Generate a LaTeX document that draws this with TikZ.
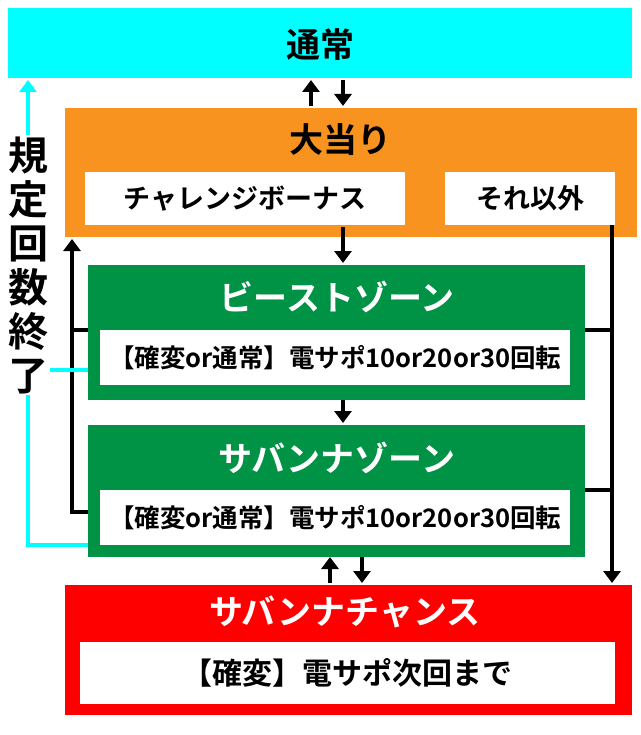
\documentclass[tikz,border=0pt]{standalone}
\usepackage{fontspec}
\setmainfont{Noto Sans CJK JP Bold}
\usetikzlibrary{arrows.meta}
\definecolor{cyanbg}{HTML}{00FFFF}
\definecolor{orangebg}{HTML}{F7931E}
\definecolor{greenbg}{HTML}{009245}
\definecolor{redbg}{HTML}{FF0000}
\tikzset{
  title/.style={font=\fontsize{34}{34}\selectfont},
  label/.style={font=\fontsize{27}{27}\selectfont, fill=white, inner sep=0pt, anchor=north west},
  flow/.style={line width=4pt, -{Triangle[length=12pt,width=17pt]}},
  link/.style={line width=4pt},
}
\begin{document}
\begin{tikzpicture}[x=1pt,y=-1pt]
\useasboundingbox (0,0) rectangle (640,735);

% boxes
\fill[cyanbg] (8,8) rectangle (632,78);
\node[title] (normal) at (320,45) {通常};
\fill[orangebg] (65,108) rectangle (637,237);
\node[title] (hit) at (340,140) {大当り};
\node[label, minimum width=320pt, minimum height=53pt] (chal) at (85,172) {チャレンジボーナス};
\node[label, minimum width=170pt, minimum height=53pt] (other) at (445,172) {それ以外};

\fill[greenbg] (88,265) rectangle (585,400);
\node[title, text=white] (beast) at (337,297) {ビーストゾーン};
\node[label, minimum width=470pt, minimum height=55pt, font=\fontsize{25.5}{26}\selectfont] (bsub) at (100,330) {【確変or通常】電サポ10or20or30回転};

\fill[greenbg] (88,425) rectangle (585,557);
\node[title, text=white] (sav) at (337,458) {サバンナゾーン};
\node[label, minimum width=470pt, minimum height=55pt, font=\fontsize{25.5}{26}\selectfont] (ssub) at (100,490) {【確変or通常】電サポ10or20or30回転};

\fill[redbg] (65,585) rectangle (632,715);
\node[title, text=white] (chance) at (345,612) {サバンナチャンス};
\node[label, minimum width=535pt, minimum height=62pt, font=\fontsize{30}{30}\selectfont] (csub) at (80,642) {【確変】電サポ次回まで};

% connectors
\draw[flow] (311,106) -- (311,80);
\draw[flow] (343,80) -- (343,106);
\draw[flow] (343,227) -- (343,263);
\draw[flow] (343,400) -- (343,423);
\draw[flow] (330,583) -- (330,557);
\draw[flow] (362,557) -- (362,583);

\coordinate (rtop) at (612,225);
\draw[flow] (rtop) -- (612,583);
\draw[link] (585,330) -- (614,330);
\draw[link] (585,490) -- (614,490);

\draw[link] (88,512) -- (72,512) -- (72,330) -- (88,330);
\draw[flow] (72,330) -- (72,239);

\draw[cyanbg, line width=4pt] (88,545) -- (28,545) -- (28,370) -- (88,370);
\draw[cyanbg, line width=4pt, -{Triangle[length=12pt,width=17pt]}] (28,370) -- (28,80);
\node[fill=white, inner sep=1pt, align=center, font=\fontsize{40}{44}\selectfont] (limit) at (29,265) {規\\定\\回\\数\\終\\了};
\end{tikzpicture}
\end{document}
